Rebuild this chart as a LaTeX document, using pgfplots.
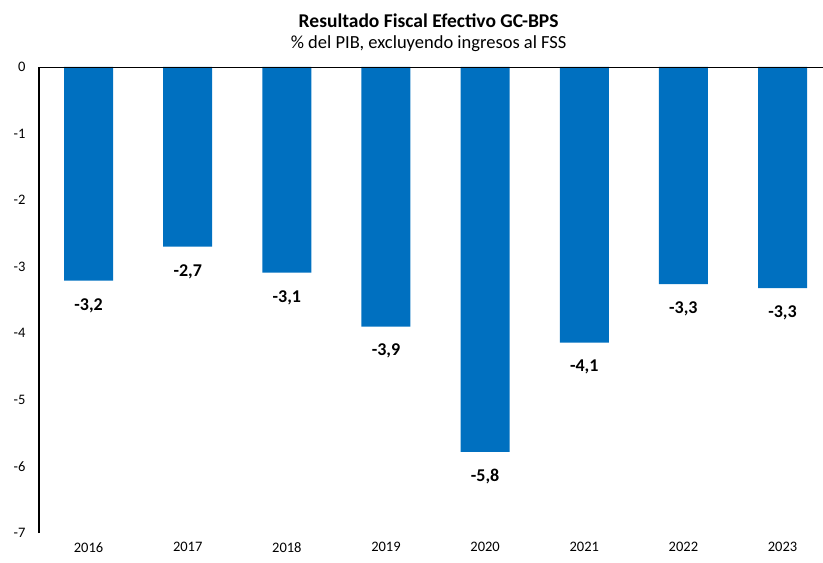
\documentclass[border=0pt]{standalone}
\usepackage{fontspec}
\setmainfont{Carlito}
\usepackage{pgfplots}
\pgfplotsset{compat=1.18}
\definecolor{barblue}{RGB}{0,112,192}
\begin{document}
\begin{tikzpicture}
\begin{axis}[
  scale only axis,
  width=784pt, height=466pt,
  xmin=-0.5, xmax=7.408,
  ymin=-7, ymax=0,
  ytick={-7,-6,-5,-4,-3,-2,-1,0},
  xtick=data,
  xticklabels={2016,2017,2018,2019,2020,2021,2022,2023},
  major tick length=0pt,
  axis x line*=bottom,
  axis y line*=left,
  x axis line style={draw=none},
  y axis line style={black, line width=1.1pt},
  /pgf/number format/assume math mode=true,
  tick label style={font=\fontsize{14.5}{16}\selectfont},
  yticklabel style={xshift=-10pt},
  xticklabel style={yshift=-6pt},
  ybar, bar width=49pt,
  clip=false,
  nodes near coords={\pgfmathprintnumber[fixed, fixed zerofill, precision=1, use comma, assume math mode=true]{\pgfplotspointmeta}},
  every node near coord/.append style={anchor=north, yshift=-14pt, font=\bfseries\fontsize{18}{20}\selectfont, text=black},
]
\addplot[fill=barblue, draw=none] coordinates {
  (0,-3.21) (1,-2.70) (2,-3.09) (3,-3.90) (4,-5.78) (5,-4.14) (6,-3.26) (7,-3.32)
};
\draw[black, line width=0.9pt] (rel axis cs:0,1) -- (rel axis cs:1,1);
\coordinate (bl) at (rel axis cs:0,0);
\coordinate (tr) at (rel axis cs:1,1);
\node[font=\bfseries\fontsize{19.5}{22}\selectfont] at ([yshift=46pt]rel axis cs:0.497,1) {Resultado Fiscal Efectivo GC-BPS};
\node[font=\fontsize{18.5}{21}\selectfont] at ([yshift=23pt]rel axis cs:0.497,1) {\% del PIB, excluyendo ingresos al FSS};
\end{axis}
\pgfresetboundingbox
\path ([shift={(-39pt,-29pt)}]bl) rectangle ([shift={(0pt,67pt)}]tr);
\end{tikzpicture}
\end{document}
